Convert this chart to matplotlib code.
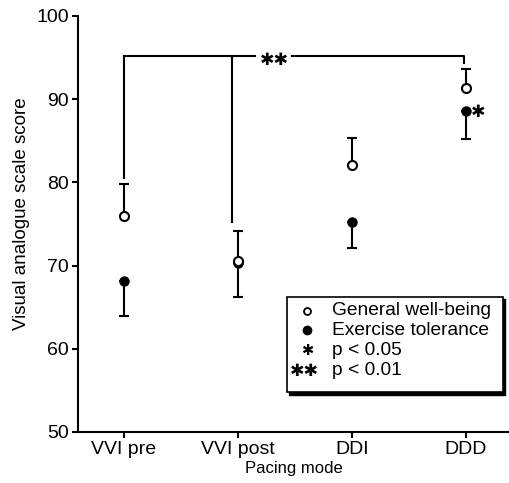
import matplotlib
matplotlib.use("Agg")
import matplotlib.pyplot as plt
from matplotlib.patches import Rectangle

plt.rcParams['font.family'] = ['Liberation Sans', 'DejaVu Sans']

# ---- data ----
modes = ["VVI pre", "VVI post", "DDI", "DDD"]
wellbeing = [76.0, 70.5, 82.1, 91.4]          # open circles
wellbeing_upper_err = [3.8, 3.6, 3.2, 2.2]     # one-sided (upwards)
exercise = [68.2, 70.3, 75.2, 88.6]            # filled circles
exercise_lower_err = [4.2, 4.1, 3.1, 3.4]      # one-sided (downwards)
yticks = [50, 60, 70, 80, 90, 100]
legend_labels = ["General well-being", "Exercise tolerance", "p < 0.05", "p < 0.01"]

fig = plt.figure(figsize=(5.10, 4.83), dpi=100)
ax = fig.add_axes([78/510, 1-432/483, 432/510, 416/483])

x = list(range(len(modes)))
lw = 1.5
# error bars
ax.errorbar(x, wellbeing, yerr=[[0]*4, wellbeing_upper_err], fmt='none',
            ecolor='black', elinewidth=lw, capsize=3.4, capthick=lw, zorder=2)
ax.errorbar(x, exercise, yerr=[exercise_lower_err, [0]*4], fmt='none',
            ecolor='black', elinewidth=lw, capsize=3.4, capthick=lw, zorder=2)
ax.plot(x, exercise, 'o', color='black', markersize=6.5, zorder=3)
ax.plot(x, wellbeing, 'o', markerfacecolor='white', markeredgecolor='black',
        markeredgewidth=1.5, markersize=6.5, zorder=4)

# significance bracket
yb = 95.2
ax.plot([0, 0], [80.4, yb], color='black', lw=lw, solid_capstyle='butt')
ax.plot([0, 1.15], [yb, yb], color='black', lw=lw)
ax.plot([1.47, 2.98, 2.98], [yb, yb, 94.3], color='black', lw=lw)
ax.plot([0.95, 0.95], [75.2, yb], color='black', lw=lw)
star = dict(family=['DejaVu Sans'], ha='center', va='center', color='black')
ax.text(1.32, 94.75, "\u2731\u2731", fontsize=12.5, **star)
ax.text(3.11, 88.5, "\u2731", fontsize=12.5, **star)

# legend box (manual, with shadow)
tr = ax.transAxes
bx0, by0, bw, bh = 0.484, 0.096, 0.50, 0.229
ax.add_patch(Rectangle((bx0 + 0.005, by0 - 0.006), bw, bh, transform=tr,
                       facecolor='black', edgecolor='black', lw=1.0, zorder=5, clip_on=False))
ax.add_patch(Rectangle((bx0, by0), bw, bh, transform=tr, facecolor='white',
                       edgecolor='black', lw=1.2, zorder=6, clip_on=False))
rows_y = [0.291, 0.245, 0.195, 0.147]
mx, tx = 0.530, 0.588
ax.plot([mx], [rows_y[0]], 'o', transform=tr, markerfacecolor='white',
        markeredgecolor='black', markeredgewidth=1.3, markersize=5, zorder=7, clip_on=False)
ax.plot([mx], [rows_y[1]], 'o', transform=tr, color='black', markersize=6,
        zorder=7, clip_on=False)
ax.text(mx, rows_y[2], "\u2731", fontsize=10.5, transform=tr, zorder=7, **star)
ax.text(mx - 0.005, rows_y[3], "\u2731\u2731", fontsize=12.5, transform=tr, zorder=7, **star)
for yy, lab in zip(rows_y, legend_labels):
    ax.text(tx, yy, lab, transform=tr, fontsize=13.8, ha='left', va='center', zorder=7)

# axes styling
ax.set_xlim(-0.4035, 3.386)
ax.set_ylim(50, 100)
ax.set_xticks(x)
ax.set_xticklabels(modes, fontsize=14)
ax.set_yticks(yticks)
ax.set_yticklabels([str(v) for v in yticks], fontsize=14)
ax.spines['top'].set_visible(False)
ax.spines['right'].set_visible(False)
ax.spines['left'].set_linewidth(1.5)
ax.spines['bottom'].set_linewidth(1.5)
ax.tick_params(axis='both', direction='out', length=4.5, width=1.5, colors='black', pad=2)
ax.set_xlabel("Pacing mode", fontsize=12, labelpad=2)
ax.set_ylabel("Visual analogue scale score", fontsize=13.5)
ax.yaxis.set_label_coords(-0.111, 0.524)

fig.savefig("out.png", dpi=100)
